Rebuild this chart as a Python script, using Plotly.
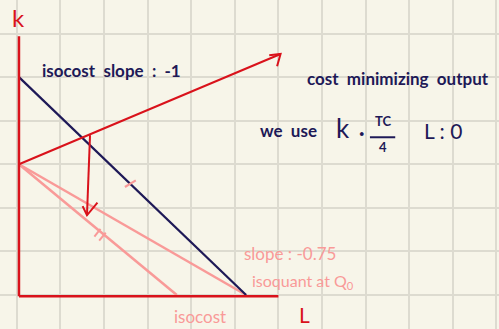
import plotly.graph_objects as go

# grid units: one square of the note paper = 1
k_axis_x = [0.05, 0.05]
k_axis_y = [-0.03, 5.94]
l_axis_x = [0.05, 6.0]
l_axis_y = [-0.03, -0.03]

isocost_x = [0.05, 5.26]
isocost_y = [5.0, 0.0]

isoquant_x = [0.05, 5.26]
isoquant_y = [3.0, 0.0]

new_isocost_x = [0.05, 3.67]
new_isocost_y = [3.0, 0.0]

ray_x = [0.05, 6.05]
ray_y = [3.0, 5.53]
ray_head_x = [5.79, 6.05, 5.97]
ray_head_y = [5.50, 5.53, 5.25]

drop_x = [1.68, 1.61]
drop_y = [3.67, 1.83]
drop_head_x = [1.51, 1.61, 1.85]
drop_head_y = [2.04, 1.83, 2.12]

tick1_x = [2.48, 2.73]
tick1_y = [2.48, 2.63]
tick2a_x = [1.78, 1.92]
tick2a_y = [1.34, 1.52]
tick2b_x = [1.89, 2.04]
tick2b_y = [1.25, 1.43]

frac_bar_x = [8.10, 8.68]
frac_bar_y = [3.62, 3.62]

RED = "#d9121b"
NAVY = "#1e1957"
PINK = "#f99a98"

fig = go.Figure()

def seg(x, y, color, width):
    fig.add_trace(go.Scatter(x=x, y=y, mode="lines", line=dict(color=color, width=width),
                             hoverinfo="skip", showlegend=False))

seg(isoquant_x, isoquant_y, PINK, 2.5)
seg(new_isocost_x, new_isocost_y, PINK, 2.5)
seg(isocost_x, isocost_y, NAVY, 2.2)
seg(k_axis_x, k_axis_y, RED, 2.5)
seg(l_axis_x, l_axis_y, RED, 2.5)
seg(ray_x, ray_y, RED, 2)
seg(ray_head_x, ray_head_y, RED, 2)
seg(drop_x, drop_y, RED, 2)
seg(drop_head_x, drop_head_y, RED, 2)
seg(tick1_x, tick1_y, PINK, 2.2)
seg(tick2a_x, tick2a_y, PINK, 2)
seg(tick2b_x, tick2b_y, PINK, 2)
seg(frac_bar_x, frac_bar_y, NAVY, 2)

FONT = "Lato"
notes = [
    ("k", 0.05, 6.36, RED, 24, "center", 400),
    ("isocost  slope  :  -1", 0.53, 5.16, NAVY, 17, "left", 700),
    ("cost  minimizing  output", 6.61, 4.98, NAVY, 17, "left", 700),
    ("we  use", 5.53, 3.78, NAVY, 17, "left", 700),
    ("k", 7.28, 3.84, NAVY, 26, "left", 400),
    ("·", 7.80, 3.74, NAVY, 20, "left", 700),
    ("TC", 8.39, 3.99, NAVY, 13, "center", 700),
    ("4", 8.39, 3.39, NAVY, 13, "center", 700),
    ("L : 0", 9.30, 3.78, NAVY, 21, "left", 400),
    ("slope : -0.75", 5.17, 0.96, PINK, 17, "left", 400),
    ("isoquant at Q<sub>0</sub>", 5.35, 0.30, PINK, 16, "left", 400),
    ("isocost", 3.56, -0.50, PINK, 17, "left", 400),
    ("L", 6.43, -0.44, RED, 21, "left", 400),
]
for txt, x, y, c, s, anc, w in notes:
    fig.add_annotation(x=x, y=y, text=txt, showarrow=False, xanchor=anc, yanchor="middle",
                       font=dict(family=FONT, size=s, color=c, weight=w))

fig.update_layout(
    width=499, height=329,
    margin=dict(l=0, r=0, t=0, b=0),
    paper_bgcolor="#f7f5e9",
    plot_bgcolor="#f7f5e9",
    xaxis=dict(range=[-0.385, 11.06], tick0=0, dtick=1, showgrid=True, gridcolor="#dddbd0",
               gridwidth=1.5, zeroline=False, showticklabels=False, ticks=""),
    yaxis=dict(range=[-0.78, 6.77], tick0=0, dtick=1, showgrid=True, gridcolor="#dddbd0",
               gridwidth=1.5, zeroline=False, showticklabels=False, ticks=""),
)

fig.write_html("out.html", config={"displayModeBar": False},
               post_script="document.body.style.margin='0';")
